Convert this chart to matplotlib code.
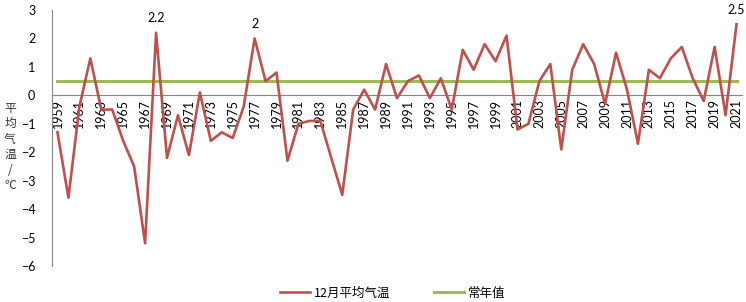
import numpy as np
import matplotlib.pyplot as plt

plt.rcParams['font.family'] = ['Lato', 'Noto Sans CJK SC', 'DejaVu Sans']

# December mean temperature anomaly, 1959-2021
years = list(range(1959, 2022))
temps = [-1.3, -3.6, -0.4, 1.3, -0.5, -0.5, -1.6, -2.5, -5.2, 2.2,
         -2.2, -0.7, -2.1, 0.1, -1.6, -1.3, -1.5, -0.4, 2.0, 0.5,
         0.8, -2.3, -1.0, -0.9, -0.9, -2.2, -3.5, -0.5, 0.2, -0.5,
         1.1, -0.1, 0.5, 0.7, -0.1, 0.6, -0.5, 1.6, 0.9, 1.8,
         1.2, 2.1, -1.2, -1.0, 0.5, 1.1, -1.9, 0.9, 1.8, 1.1,
         -0.3, 1.5, 0.2, -1.7, 0.9, 0.6, 1.3, 1.7, 0.6, -0.2,
         1.7, -0.7, 2.5]
normal = 0.5
labelled = {1968: '2.2', 1977: '2', 2021: '2.5'}
ylabel = '平均气温/℃'

red = '#C0504D'
green = '#9BBB59'
grey = '#868686'
cjk = ['Noto Sans CJK SC', 'DejaVu Sans']

fig = plt.figure(figsize=(7.46, 3.02), dpi=100)
ax = fig.add_axes([52 / 746, 1 - 266 / 302, 690 / 746, 256 / 302])

# spine placement first, it resets the tick objects
for s in ['top', 'right']:
    ax.spines[s].set_visible(False)
ax.spines['bottom'].set_position(('data', 0))
ax.spines['bottom'].set_color(grey)
ax.spines['left'].set_color(grey)
ax.spines['bottom'].set_linewidth(0.8)
ax.spines['left'].set_linewidth(0.8)

ax.plot(years, temps, color=red, lw=1.9, label='12月平均气温', zorder=3)
ax.plot(years, [normal] * len(years), color=green, lw=2.2, label='常年值', zorder=2)

for yr, txt in labelled.items():
    v = temps[years.index(yr)]
    ax.annotate(txt, (yr, v), xytext=(0, 6), textcoords='offset points',
                ha='center', va='bottom', fontsize=9)

ax.set_xlim(1958.5, 2021.5)
ax.set_ylim(-6, 3)
ax.set_yticks(np.arange(-6, 4, 1))
ax.set_xticks(years[::2])
ax.set_xticklabels([str(y) for y in years[::2]])
ax.tick_params(axis='x', length=0, pad=3, labelsize=9, labelrotation=90)
ax.tick_params(axis='y', length=0, pad=12, labelsize=9)

# vertical stacked y label, one character per line
for i, ch in enumerate(ylabel):
    fig.text(10 / 746, 1 - (108 + 15.5 * i) / 302, ch, ha='center', va='center',
             fontsize=8.5, family=cjk, color='#333333')

ax.legend(loc='lower center', bbox_to_anchor=(0.5 - 4 / 690, -0.175), ncol=2, frameon=False,
          handlelength=2.4, columnspacing=3.5, handletextpad=0.3,
          prop={'family': cjk, 'size': 9})

fig.savefig('out.png', dpi=100)
